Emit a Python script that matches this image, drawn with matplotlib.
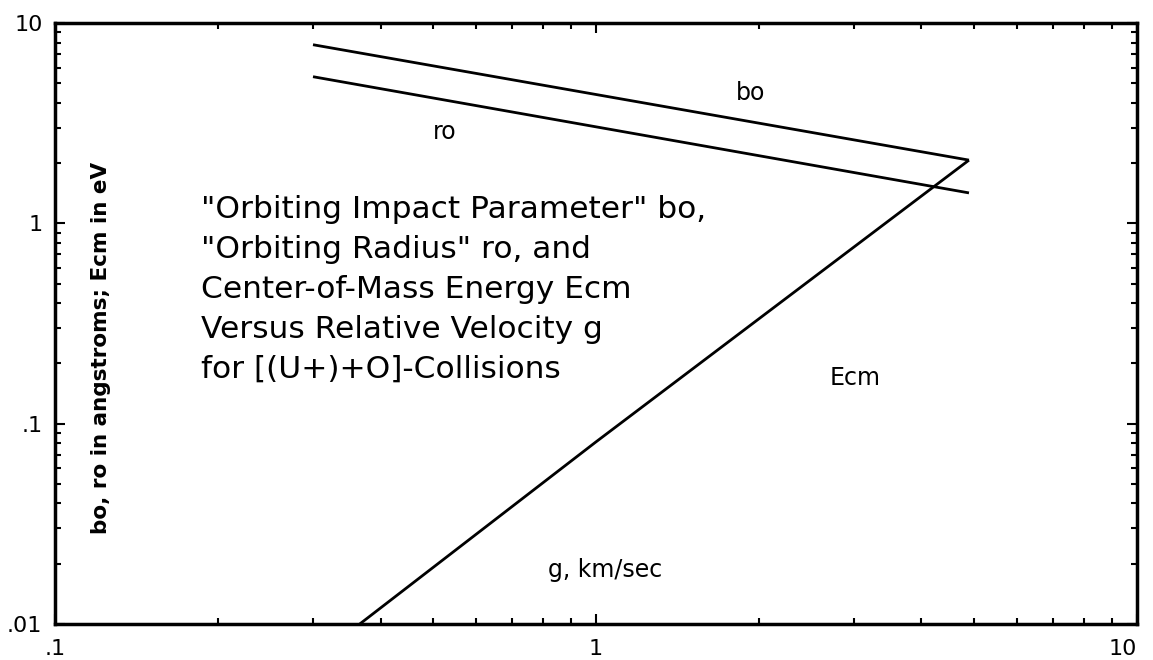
import matplotlib
matplotlib.use("Agg")
import matplotlib.pyplot as plt
from matplotlib.ticker import FixedLocator, FixedFormatter, LogLocator, NullFormatter

# relative velocity g (km/sec) at the ends of the bo / ro curves
g_orbit = [0.3, 4.9]
bo = [7.8, 2.07]   # orbiting impact parameter, angstroms
ro = [5.4, 1.42]   # orbiting radius, angstroms

# centre-of-mass energy (eV) versus g
g_ecm = [0.366, 1.0, 4.9]
ecm = [0.01, 0.081, 2.07]

x_ticks = [0.1, 1, 10]
x_ticklabels = [".1", "1", "10"]
y_ticks = [0.01, 0.1, 1, 10]
y_ticklabels = [".01", ".1", "1", "10"]

W, H = 1153, 660
fig = plt.figure(figsize=(W / 100, H / 100), dpi=100)
ax = fig.add_axes([0.0477, 0.0545, 0.938, 0.9105])

line_kw = dict(color="black", lw=2.0, solid_capstyle="butt")
ax.plot(g_orbit, bo, **line_kw)
ax.plot(g_orbit, ro, **line_kw)
ax.plot(g_ecm, ecm, **line_kw)

ax.set_xscale("log")
ax.set_yscale("log")
ax.set_xlim(0.1, 10)
ax.set_ylim(0.01, 10)

ax.xaxis.set_major_locator(FixedLocator(x_ticks))
ax.xaxis.set_major_formatter(FixedFormatter(x_ticklabels))
ax.yaxis.set_major_locator(FixedLocator(y_ticks))
ax.yaxis.set_major_formatter(FixedFormatter(y_ticklabels))
for axis in (ax.xaxis, ax.yaxis):
    axis.set_minor_locator(LogLocator(base=10, subs=range(2, 10)))
    axis.set_minor_formatter(NullFormatter())

ax.tick_params(which="both", direction="in", top=True, right=True, width=1.5)
ax.tick_params(which="major", length=7)
ax.tick_params(which="minor", length=4)
ax.tick_params(axis="x", which="major", pad=11, labelsize=16)
ax.tick_params(axis="y", which="major", pad=9, labelsize=16)
ax.get_xticklabels()[-1].set_horizontalalignment("right")
for sp in ax.spines.values():
    sp.set_linewidth(2.5)

txt_font = "DejaVu Sans"
label_kw = dict(xycoords="figure pixels", fontsize=17, ha="center", va="center",
                family=txt_font)
ax.annotate("bo", xy=(751, H - 93), **label_kw)
ax.annotate("ro", xy=(445, H - 132), **label_kw)
ax.annotate("Ecm", xy=(855, H - 378), **label_kw)
ax.annotate("g, km/sec", xy=(605, H - 570), **label_kw)

block = ('"Orbiting Impact Parameter" bo,\n'
         '"Orbiting Radius" ro, and\n'
         'Center-of-Mass Energy Ecm\n'
         'Versus Relative Velocity g\n'
         'for [(U+)+O]-Collisions')
ax.annotate(block, xy=(201, H - 378), xycoords="figure pixels", fontsize=22.5,
            ha="left", va="baseline", linespacing=1.48, family=txt_font)

fig.text(101 / W, 1 - 348 / H, "bo, ro in angstroms; Ecm in eV", rotation=90,
         ha="center", va="center", fontsize=15.5, fontweight="bold",
         family=["Liberation Sans Narrow", "DejaVu Sans"])

fig.savefig("out.png", dpi=100)
